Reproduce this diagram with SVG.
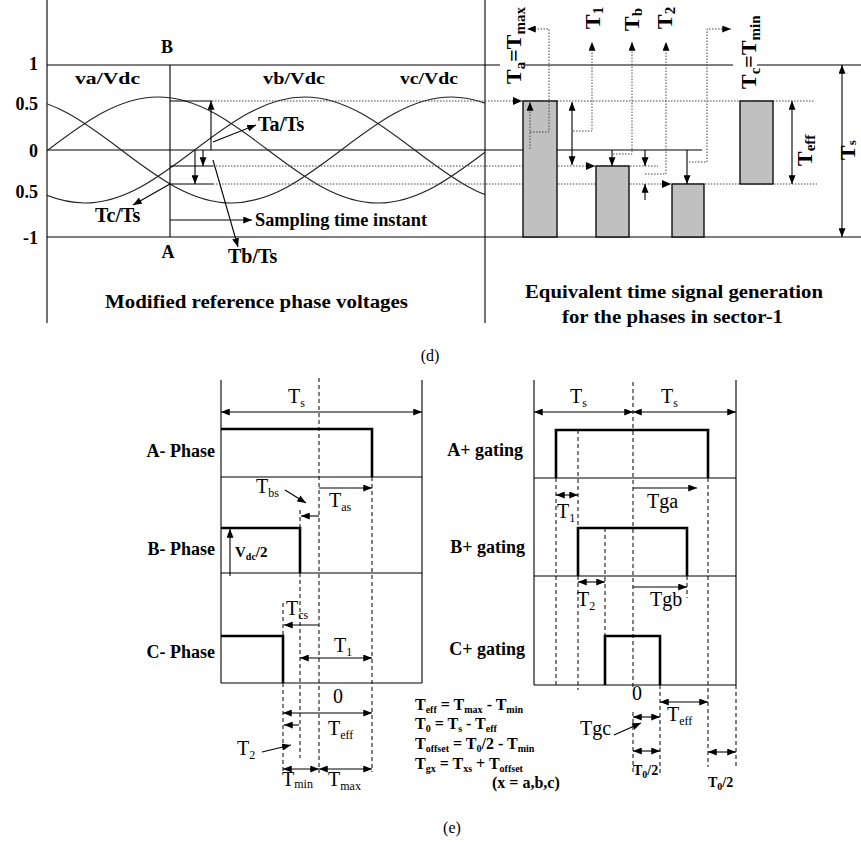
<svg xmlns="http://www.w3.org/2000/svg" xmlns:xlink="http://www.w3.org/1999/xlink" width="861" height="842" viewBox="0 0 861 842">
<style>
.ln{stroke:#000;stroke-width:1.1;fill:none}
.dot{stroke:#444;stroke-width:1;stroke-dasharray:1.5 1.5;fill:none}
.dsh{stroke:#000;stroke-width:1;stroke-dasharray:4 3;fill:none}
.pulse{stroke:#000;stroke-width:2.6;fill:none}
.bar{fill:#c0c0c0;stroke:#000;stroke-width:1.3}
.wave{stroke:#222;stroke-width:1.1;fill:none}
.head{fill:#000}
.arr{marker-end:url(#ah)}
.arr2{marker-start:url(#ah);marker-end:url(#ah)}
.tb{font-family:"Liberation Serif","Times New Roman",serif;font-weight:bold;fill:#000}
.tn{font-family:"Liberation Serif","Times New Roman",serif;fill:#000}
</style>
<defs>
<marker id="ah" viewBox="0 0 10 8" refX="10" refY="4" markerWidth="9" markerHeight="7" markerUnits="userSpaceOnUse" orient="auto-start-reverse"><path d="M0,0 L10,4 L0,8 z" fill="#000"/></marker>
<path id="wave" d="M-550,150 C-514.12,122.85 -479.81,97 -440,97 C-400.19,97 -365.88,122.85 -330,150 C-294.12,177.15 -259.81,203 -220,203 C-180.19,203 -145.88,177.15 -110,150 C-74.12,122.85 -39.81,97 0,97 C39.81,97 74.12,122.85 110,150 C145.88,177.15 180.19,203 220,203 C259.81,203 294.12,177.15 330,150 C365.88,122.85 400.19,97 440,97 C479.81,97 514.12,122.85 550,150"/>
<clipPath id="wclip"><rect x="47" y="0" width="438" height="300"/></clipPath>
</defs>
<rect width="861" height="842" fill="#fff"/>

<g id="top-left-panel">
<path class="ln" d="M47,0 V323 M485,0 V323 M47,65 H500 M523,65 H733 M757,65 H861 M47,150 H702 M47,237 H861 M170,65 V237"/>
<g id="waves" clip-path="url(#wclip)">
<use xlink:href="#wave" href="#wave" x="158" class="wave"/>
<use xlink:href="#wave" href="#wave" x="304.67" class="wave"/>
<use xlink:href="#wave" href="#wave" x="451.33" class="wave"/>
</g>
<path class="dot" d="M212,101 H815 M213,166 H658 M213,184 H817"/>
<path class="ln" d="M170,101 H212 M170,166 H213 M170,184 H213"/>
<text class="tb" x="38" y="70" font-size="18" text-anchor="end">1</text>
<text class="tb" x="38" y="110" font-size="18" text-anchor="end">0.5</text>
<text class="tb" x="38" y="157" font-size="18" text-anchor="end">0</text>
<text class="tb" x="38" y="198" font-size="18" text-anchor="end">0.5</text>
<text class="tb" x="38" y="244" font-size="18" text-anchor="end">-1</text>
<text class="tb" x="167" y="53" font-size="18" text-anchor="middle">B</text>
<text class="tb" x="168" y="258" font-size="18" text-anchor="middle">A</text>
<text class="tb" x="75" y="84" font-size="17" textLength="65" lengthAdjust="spacingAndGlyphs">va/Vdc</text>
<text class="tb" x="263" y="84" font-size="17" textLength="62" lengthAdjust="spacingAndGlyphs">vb/Vdc</text>
<text class="tb" x="400" y="84" font-size="17" textLength="58" lengthAdjust="spacingAndGlyphs">vc/Vdc</text>
<text class="tb" x="258" y="131" font-size="20">Ta/Ts</text>
<text class="tb" x="228" y="263" font-size="20">Tb/Ts</text>
<text class="tb" x="95" y="222" font-size="20">Tc/Ts</text>
<text class="tb" x="255" y="226" font-size="18" textLength="172" lengthAdjust="spacingAndGlyphs">Sampling time instant</text>
<text class="tb" x="105" y="308" font-size="18" textLength="303" lengthAdjust="spacingAndGlyphs">Modified reference phase voltages</text>
</g>

<g id="top-right-panel">
<rect class="bar" x="523" y="101" width="34" height="136"/>
<rect class="bar" x="596" y="166" width="33" height="71"/>
<rect class="bar" x="672" y="184" width="32" height="53"/>
<rect class="bar" x="740" y="101" width="33" height="83"/>
<g class="tb" font-size="22">
<text transform="translate(521,84) rotate(-90)">T<tspan font-size="15" dy="4">a</tspan><tspan dy="-4">=T</tspan><tspan font-size="15" dy="4">max</tspan></text>
<text transform="translate(600,29) rotate(-90)">T<tspan font-size="15" dy="3">1</tspan></text>
<text transform="translate(639,31) rotate(-90)">T<tspan font-size="15" dy="3">b</tspan></text>
<text transform="translate(672,29) rotate(-90)">T<tspan font-size="15" dy="3">2</tspan></text>
<text transform="translate(756,89) rotate(-90)">T<tspan font-size="15" dy="4">c</tspan><tspan dy="-4">=T</tspan><tspan font-size="15" dy="4">min</tspan></text>
<text transform="translate(812,166) rotate(-90)">T<tspan font-size="15" dy="3">eff</tspan></text>
<text transform="translate(855,160) rotate(-90)">T<tspan font-size="13" dy="1">s</tspan></text>
</g>
<text class="tb" x="525" y="298" font-size="18" textLength="298" lengthAdjust="spacingAndGlyphs">Equivalent time signal generation</text>
<text class="tb" x="562" y="323" font-size="18" textLength="221" lengthAdjust="spacingAndGlyphs">for the phases in sector-1</text>
</g>

<g id="connectors">
<!-- top left -->
<path class="ln arr" d="M211,150 V101"/>
<path class="ln arr" d="M203,150 V166"/>
<path class="ln arr" d="M195,150 V184"/>
<path class="ln arr" d="M213,142 L256,125"/>
<path class="ln arr" d="M213,160 L238,247"/>
<path class="ln arr" d="M170,184 L133,205"/>
<path class="ln arr" d="M170,220 H252"/>
<!-- top right -->
<path class="head" d="M513,97 L522,101 L513,105 z"/>
<path class="head" d="M586,162 L595,166 L586,170 z"/>
<path class="head" d="M662,180 L671,184 L662,188 z"/>
<path class="dot arr" d="M530,149 V102"/>
<path class="dot arr" d="M530,132 H549 V29 H527"/>
<path class="ln arr2" d="M572,102 V165"/>
<path class="dot arr" d="M573,131 H592 V42"/>
<path class="ln arr" d="M612,150 V166"/>
<path class="dot arr" d="M613,154 H632 V42"/>
<path class="ln arr" d="M645,150 V166"/>
<path class="ln arr" d="M645,200 V184"/>
<path class="dot arr" d="M645,174 H666 V42"/>
<path class="ln arr" d="M687,150 V184"/>
<path class="dot arr" d="M689,162 H707 V29 H731"/>
<path class="ln arr2" d="M792,101 V184"/>
<path class="ln arr2" d="M842,65 V237"/>
<!-- bottom left -->
<path class="ln arr2" d="M221,412 H422"/>
<path class="ln arr" d="M319,488 H372"/>
<path class="ln arr" d="M285,490 L306,503"/>
<path class="ln arr" d="M319,516 H301"/>
<path class="ln arr" d="M230,576 V529"/>
<path class="ln arr" d="M319,625 H284"/>
<path class="ln arr2" d="M300,658 H372"/>
<path class="ln arr2" d="M283,713 H372"/>
<path class="ln arr" d="M299,725 H284"/>
<path class="ln arr" d="M262,752 L291,745"/>
<path class="ln arr2" d="M283,769 H319"/>
<path class="ln arr2" d="M319,769 H372"/>
<!-- bottom right -->
<path class="ln arr2" d="M534,412 H633"/>
<path class="ln arr2" d="M633,412 H736"/>
<path class="ln arr2" d="M556,495 H578"/>
<path class="ln arr" d="M633,488 H697"/>
<path class="ln arr2" d="M578,582 H605"/>
<path class="ln arr" d="M633,587 H687"/>
<path class="ln arr2" d="M660,702 H708"/>
<path class="ln arr" d="M614,735 L641,723"/>
<path class="ln arr2" d="M633,717 H660"/>
<path class="ln arr2" d="M633,751 H660"/>
<path class="ln arr2" d="M708,752 H736"/>
</g>

<text class="tn" x="430" y="361" font-size="16" text-anchor="middle">(d)</text>

<g id="phase-diagram">
<path class="ln" d="M221,380 V683 M422,380 V683 M221,477 H422 M221,573 H422 M221,683 H422"/>
<path class="dsh" d="M319,378 V773 M372,477 V772 M300,510 V527 M300,573 V758 M283,603 V636 M283,683 V772"/>
<path class="pulse" d="M221,429 H372 V477 M221,528 H300 V573 M221,636 H283 V683"/>
<text class="tb" x="215" y="457" font-size="18" text-anchor="end">A- Phase</text>
<text class="tb" x="215" y="555" font-size="18" text-anchor="end">B- Phase</text>
<text class="tb" x="215" y="658" font-size="18" text-anchor="end">C- Phase</text>
<g class="tn" font-size="20">
<text x="288" y="403">T<tspan font-size="12" dy="4">s</tspan></text>
<text x="256" y="493">T<tspan font-size="12" dy="4">bs</tspan></text>
<text x="329" y="507">T<tspan font-size="12" dy="4">as</tspan></text>
<text x="286" y="615">T<tspan font-size="12" dy="4">cs</tspan></text>
<text x="334" y="652">T<tspan font-size="12" dy="4">1</tspan></text>
<text x="333" y="703">0</text>
<text x="328" y="735">T<tspan font-size="12" dy="4">eff</tspan></text>
<text x="237" y="755">T<tspan font-size="12" dy="4">2</tspan></text>
<text x="282" y="786">T<tspan font-size="12" dy="2">min</tspan></text>
<text x="328" y="786">T<tspan font-size="12" dy="4">max</tspan></text>
</g>
<text class="tb" x="235" y="557" font-size="15">V<tspan font-size="10" dy="3">dc</tspan><tspan dy="-3">/2</tspan></text>
</g>

<g id="gating-diagram">
<path class="ln" d="M534,380 V685 M736,380 V685 M534,478 H736 M534,576 H736 M534,685 H736"/>
<path class="dsh" d="M736,685 V767 M556,478 V685 M578,430 V528 M578,576 V690 M605,528 V636 M633,382 V690 M633,712 V775 M660,685 V775 M687,576 V598 M708,478 V767"/>
<path class="pulse" d="M556,478 V430 H708 V478 M578,576 V528 H687 V576 M605,685 V636 H660 V685"/>
<text class="tb" x="523" y="456" font-size="18" text-anchor="end">A+ gating</text>
<text class="tb" x="525" y="553" font-size="18" text-anchor="end">B+ gating</text>
<text class="tb" x="525" y="655" font-size="18" text-anchor="end">C+ gating</text>
<g class="tn" font-size="20">
<text x="570" y="403">T<tspan font-size="12" dy="4">s</tspan></text>
<text x="661" y="403">T<tspan font-size="12" dy="4">s</tspan></text>
<text x="557" y="518">T<tspan font-size="12" dy="4">1</tspan></text>
<text x="647" y="508">Tga</text>
<text x="577" y="606">T<tspan font-size="12" dy="4">2</tspan></text>
<text x="650" y="606">Tgb</text>
<text x="632" y="700">0</text>
<text x="667" y="721">T<tspan font-size="12" dy="4">eff</tspan></text>
<text x="580" y="735">Tgc</text>
</g>
<text class="tb" x="633" y="775" font-size="14">T<tspan font-size="10" dy="3">0</tspan><tspan dy="-3">/2</tspan></text>
<text class="tb" x="708" y="787" font-size="14">T<tspan font-size="10" dy="3">0</tspan><tspan dy="-3">/2</tspan></text>
</g>

<g id="equations" class="tb" font-size="16">
<text x="415" y="710">T<tspan font-size="10" dy="3">eff</tspan><tspan dy="-3"> = T</tspan><tspan font-size="10" dy="3">max</tspan><tspan dy="-3"> - T</tspan><tspan font-size="10" dy="3">min</tspan></text>
<text x="415" y="729">T<tspan font-size="10" dy="3">0</tspan><tspan dy="-3"> = T</tspan><tspan font-size="10" dy="3">s</tspan><tspan dy="-3"> - T</tspan><tspan font-size="10" dy="3">eff</tspan></text>
<text x="415" y="749">T<tspan font-size="10" dy="3">offset</tspan><tspan dy="-3"> = T</tspan><tspan font-size="10" dy="3">0</tspan><tspan dy="-3">/2 - T</tspan><tspan font-size="10" dy="3">min</tspan></text>
<text x="415" y="769">T<tspan font-size="10" dy="3">gx</tspan><tspan dy="-3"> = T</tspan><tspan font-size="10" dy="3">xs</tspan><tspan dy="-3"> + T</tspan><tspan font-size="10" dy="3">offset</tspan></text>
<text x="492" y="788">(x = a,b,c)</text>
</g>

<text class="tn" x="452" y="833" font-size="16" text-anchor="middle">(e)</text>
</svg>
